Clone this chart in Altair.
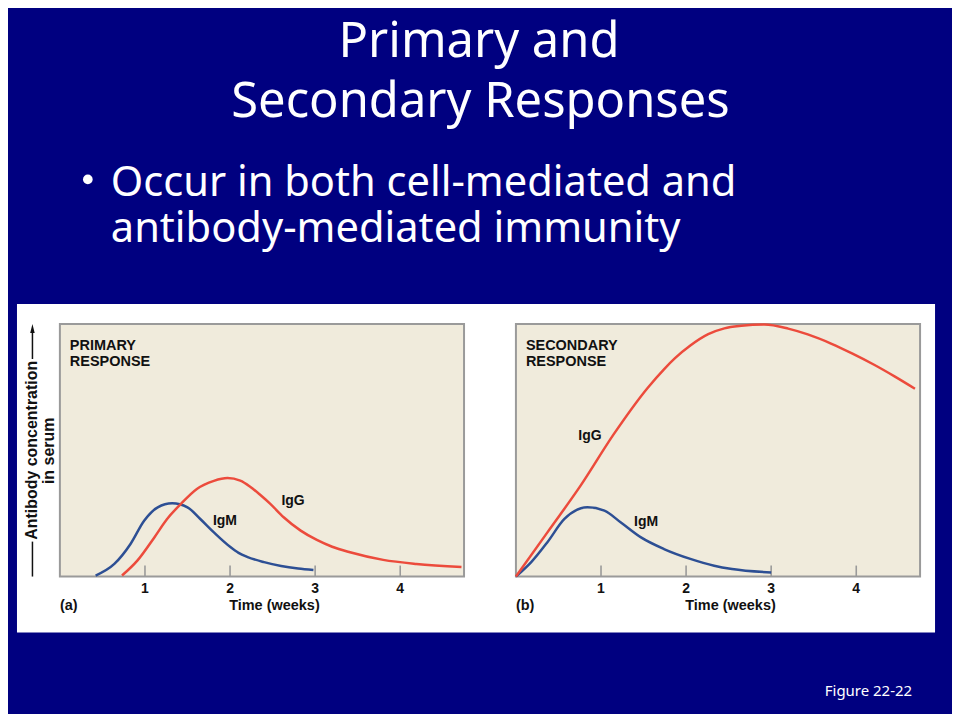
import altair as alt
import pandas as pd

# ---------------- data ----------------
weeks_ticks = [1, 2, 3, 4]

# (a) primary response
a_igm_x = [0.42, 0.64, 0.83, 0.99, 1.15, 1.32, 1.50, 1.65, 1.81, 2.00, 2.10, 2.20, 2.40, 2.60, 2.80, 2.98]
a_igm_y = [0.4, 5.0, 12.9, 22.1, 27.4, 29.0, 27.4, 22.8, 17.5, 11.8, 9.4, 7.8, 5.7, 4.2, 3.2, 2.6]
a_igg_x = [0.73, 0.91, 1.11, 1.26, 1.42, 1.61, 1.81, 1.97, 2.12, 2.24, 2.36, 2.47, 2.63, 2.83, 3.02, 3.20, 3.41, 3.80, 4.19, 4.72]
a_igg_y = [0.4, 6.3, 15.5, 22.8, 28.7, 34.7, 37.9, 39.0, 38.0, 35.5, 32.2, 28.9, 23.5, 18.2, 14.5, 11.8, 9.6, 6.6, 5.0, 3.8]

# (b) secondary response
b_igm_x = [0.00, 0.18, 0.37, 0.57, 0.84, 1.04, 1.23, 1.47, 1.74, 2.05, 2.33, 2.54, 3.00]
b_igm_y = [0.0, 5.7, 13.6, 22.8, 27.4, 26.1, 21.5, 15.5, 10.9, 7.0, 4.3, 3.0, 1.6]
b_igg_x = [0.00, 0.37, 0.76, 1.15, 1.55, 1.74, 1.87, 2.05, 2.26, 2.45, 2.65, 2.92, 3.20, 3.43, 3.71, 3.95, 4.21, 4.45, 4.69]
b_igg_y = [0.0, 17.5, 36.0, 56.4, 74.8, 82.1, 86.5, 91.5, 96.0, 98.3, 99.3, 99.8, 98.2, 95.9, 92.2, 88.4, 83.9, 79.3, 74.4]

# curve labels
a_label_text = ["IgM", "IgG"]
a_label_x = [1.94, 2.74]
a_label_y = [22.1, 30.0]
b_label_text = ["IgG", "IgM"]
b_label_x = [0.87, 1.53]
b_label_y = [55.7, 21.7]

title_lines = ["Primary and", "Secondary Responses"]
bullet_lines = ["Occur in both cell-mediated and", "antibody-mediated immunity"]
figure_label = "Figure 22-22"
x_title = "Time (weeks)"
y_title_lines = ["Antibody concentration", "in serum"]

# ---------------- styling ----------------
NAVY = "#000080"
BEIGE = "#f0ebdc"
GRAY = "#9a9a9a"
RED = "#ec4b3c"
BLUE = "#2d4f94"
INK = "#111111"
FONT = "Liberation Sans"
SLIDE_FONT = "Noto Sans"
W, H = 405, 253

xscale = alt.Scale(domain=[0, 4.75], nice=False, zero=False)
yscale = alt.Scale(domain=[0, 100], nice=False, zero=False)
cscale = alt.Scale(domain=["IgM", "IgG"], range=[BLUE, RED])


def one_row():
    return pd.DataFrame({"k": [0]})


def lines_frame(mx, my, gx, gy):
    return pd.DataFrame({
        "week": list(mx) + list(gx),
        "level": list(my) + list(gy),
        "series": ["IgM"] * len(mx) + ["IgG"] * len(gx),
    })


def text_at(text, x, y, **kw):
    return alt.Chart(one_row()).mark_text(text=text, **kw).encode(
        x=alt.value(x), y=alt.value(y))


def panel_layers(lines_df, labels_df, head, letter):
    plot_bg = alt.Chart(one_row()).mark_rect(
        fill=BEIGE, stroke=GRAY, strokeWidth=2
    ).encode(x=alt.value(0), x2=alt.value(W), y=alt.value(0), y2=alt.value(H))

    tick_df = pd.DataFrame({"week": weeks_ticks})
    ticks = alt.Chart(tick_df).mark_rule(
        color=GRAY, strokeWidth=1.6
    ).encode(
        x=alt.X("week:Q", scale=xscale, axis=None),
        y=alt.value(H - 11), y2=alt.value(H),
    )
    tick_labels = alt.Chart(tick_df).mark_text(
        font=FONT, fontSize=14, fontWeight="bold", color=INK,
        align="center", baseline="alphabetic"
    ).encode(
        x=alt.X("week:Q", scale=xscale, axis=None),
        y=alt.value(H + 16.5),
        text=alt.Text("week:Q", format="d"),
    )

    lines = alt.Chart(lines_df).mark_line(
        strokeWidth=2.5, interpolate="monotone"
    ).encode(
        x=alt.X("week:Q", scale=xscale, axis=None),
        y=alt.Y("level:Q", scale=yscale, axis=None),
        color=alt.Color("series:N", scale=cscale, legend=None),
    )

    labels = alt.Chart(labels_df).mark_text(
        font=FONT, fontSize=14, fontWeight="bold", color=INK,
        align="center", baseline="middle"
    ).encode(
        x=alt.X("week:Q", scale=xscale, axis=None),
        y=alt.Y("level:Q", scale=yscale, axis=None),
        text="label:N",
    )

    xt = text_at(x_title, 215, H + 34, font=FONT, fontSize=14.5, fontWeight="bold",
                 color=INK, align="center", baseline="alphabetic")
    head_txt = text_at(head, 10, 26, font=FONT, fontSize=14.5, fontWeight="bold",
                       color=INK, align="left", baseline="alphabetic",
                       lineHeight=16.5)
    letter_txt = text_at(letter, 0, H + 34, font=FONT, fontSize=14.5, fontWeight="bold",
                         color=INK, align="left", baseline="alphabetic")
    return [plot_bg, ticks, lines, labels, tick_labels, xt, head_txt, letter_txt]


a_lines = lines_frame(a_igm_x, a_igm_y, a_igg_x, a_igg_y)
b_lines = lines_frame(b_igm_x, b_igm_y, b_igg_x, b_igg_y)
a_labels = pd.DataFrame({"label": a_label_text, "week": a_label_x, "level": a_label_y})
b_labels = pd.DataFrame({"label": b_label_text, "week": b_label_x, "level": b_label_y})

# slide decorations (only in the first panel, drawn beneath everything)
page = alt.Chart(one_row()).mark_rect(fill=NAVY).encode(
    x=alt.value(-51), x2=alt.value(893), y=alt.value(-315), y2=alt.value(389))
white_panel = alt.Chart(one_row()).mark_rect(fill="white").encode(
    x=alt.value(-43), x2=alt.value(877), y=alt.value(-20), y2=alt.value(309))

slide_text = [
    text_at(title_lines[0], 420, -268, font=SLIDE_FONT, fontSize=49, color="white",
            align="center", baseline="alphabetic"),
    text_at(title_lines[1], 421.5, -208, font=SLIDE_FONT, fontSize=49, color="white",
            align="center", baseline="alphabetic"),
    alt.Chart(one_row()).mark_point(shape="circle", size=95, filled=True,
                                    color="white", opacity=1).encode(
        x=alt.value(28), y=alt.value(-145)),
    text_at(bullet_lines[0], 51, -128, font=SLIDE_FONT, fontSize=41.7, color="white",
            align="left", baseline="alphabetic"),
    text_at(bullet_lines[1], 51, -82, font=SLIDE_FONT, fontSize=41.7, color="white",
            align="left", baseline="alphabetic"),
    text_at(figure_label, 854, 373, font=SLIDE_FONT, fontSize=15, color="white",
            align="right", baseline="alphabetic"),
]

# y-axis title with arrow (panel a only)
y_title = [
    text_at(y_title_lines[0], -28, 126.5, font=FONT, fontSize=16, fontWeight="bold",
            color=INK, angle=270, align="center", baseline="middle"),
    text_at(y_title_lines[1], -11, 127, font=FONT, fontSize=16, fontWeight="bold",
            color=INK, angle=270, align="center", baseline="middle"),
    alt.Chart(one_row()).mark_rule(color=INK, strokeWidth=1.5).encode(
        x=alt.value(-27.5), y=alt.value(218), y2=alt.value(253)),
    alt.Chart(one_row()).mark_rule(color=INK, strokeWidth=1.5).encode(
        x=alt.value(-27.5), y=alt.value(6), y2=alt.value(35)),
    alt.Chart(one_row()).mark_point(shape="M0,-1L0.5,1L-0.5,1Z", size=81, filled=True,
                                    color=INK, opacity=1).encode(
        x=alt.value(-27.5), y=alt.value(4.5)),
]

panel_a = alt.layer(
    page, white_panel,
    *panel_layers(a_lines, a_labels, ["PRIMARY", "RESPONSE"], "(a)"),
    *y_title, *slide_text,
).properties(width=W, height=H)

panel_b = alt.layer(
    *panel_layers(b_lines, b_labels, ["SECONDARY", "RESPONSE"], "(b)"),
).properties(width=W, height=H)

chart = alt.hconcat(
    panel_a, panel_b, spacing=52, bounds="flush",
    padding=0, background=NAVY,
).configure_view(stroke="transparent")

chart.save("out.html", embed_options={"renderer": "svg", "actions": False})
